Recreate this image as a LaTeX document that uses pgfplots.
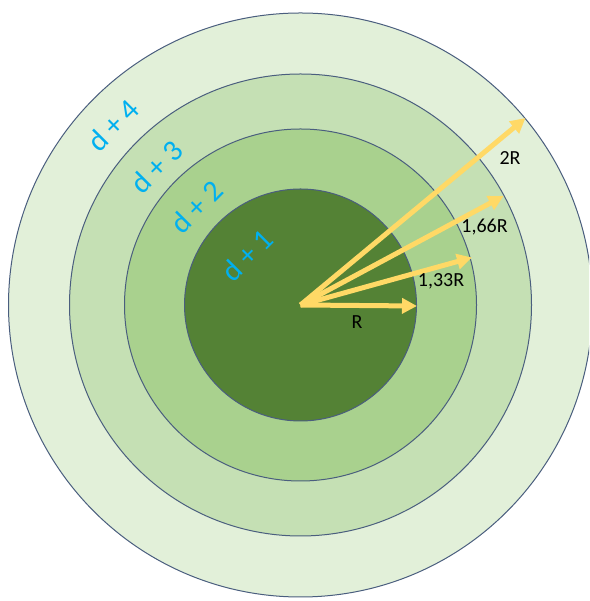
\documentclass[border=0pt]{standalone}
\usepackage{pgfplots}
\pgfplotsset{compat=1.18}
\usepackage{pgfplotstable}
\usepackage{fontspec}
\setmainfont{Carlito}
\usetikzlibrary{arrows.meta}
\definecolor{ringA}{HTML}{E2F0D9}
\definecolor{ringB}{HTML}{C5E0B4}
\definecolor{ringC}{HTML}{A9D18E}
\definecolor{ringD}{HTML}{548235}
\definecolor{edgec}{HTML}{4A5E7E}
\definecolor{arrowc}{HTML}{FFD966}
\definecolor{bluet}{HTML}{00B0F0}
% arrows: start x y, components u v
\pgfplotstableread{
x      y    u      v
300.5  296  116.5  -1
300.5  296  171.5  47.5
300.5  296  203    109
300.5  296  225    187
}\arrowsdata
\begin{document}
\begin{tikzpicture}
\begin{axis}[
  scale only axis, width=589pt, height=601pt,
  xmin=0, xmax=589, ymin=0, ymax=601,
  hide axis,
]
\draw[edgec, line width=1pt, fill=ringA] (axis cs:300.5,296) circle[radius=292];
\draw[edgec, line width=1pt, fill=ringB] (axis cs:300.5,296) circle[radius=231];
\draw[edgec, line width=1pt, fill=ringC] (axis cs:300.5,296) circle[radius=176];
\draw[edgec, line width=1pt, fill=ringD] (axis cs:300.5,296) circle[radius=116];
\addplot[arrowc, line width=5pt, line cap=butt,
  -{Triangle[length=15pt,width=15pt]},
  quiver={u=\thisrow{u}, v=\thisrow{v}}]
  table[x=x, y=y] {\arrowsdata};
\node[anchor=base, font=\fontsize{20}{20}\selectfont] at (axis cs:510,436) {2R};
\node[anchor=base, font=\fontsize{20}{20}\selectfont] at (axis cs:484.5,368) {1,66R};
\node[anchor=base, font=\fontsize{20}{20}\selectfont] at (axis cs:441,314) {1,33R};
\node[anchor=base, font=\fontsize{20}{20}\selectfont] at (axis cs:357,272) {R};
\node[rotate=45, bluet, font=\fontsize{30}{30}\selectfont, inner sep=0pt] at (axis cs:113.3,476) {d + 4};
\node[rotate=45, bluet, font=\fontsize{30}{30}\selectfont, inner sep=0pt] at (axis cs:156.7,434.3) {d + 3};
\node[rotate=45, bluet, font=\fontsize{30}{30}\selectfont, inner sep=0pt] at (axis cs:196.7,394.3) {d + 2};
\node[rotate=45, bluet, font=\fontsize{30}{30}\selectfont, inner sep=0pt] at (axis cs:247.3,346) {d + 1};
\end{axis}
\pgfresetboundingbox
\path[use as bounding box] (current axis.south west) rectangle (current axis.north east);
\end{tikzpicture}
\end{document}
